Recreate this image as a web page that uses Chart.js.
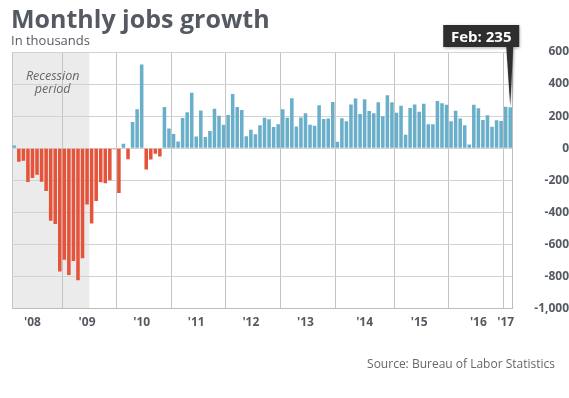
<!DOCTYPE html>
<html>
<head>
<meta charset="utf-8">
<script src="https://cdn.jsdelivr.net/npm/chart.js@4.4.0/dist/chart.umd.min.js"></script>
<style>
  html, body { margin: 0; padding: 0; background: #fff; }
  #contenedor { width: 569px; height: 398px; position: relative; }
</style>
</head>
<body>
<div id="contenedor"><canvas id="miGrafica"></canvas></div>
<script>
// Variación mensual del empleo, en miles
const datos2008 = [17, -84, -78, -210, -185, -165, -209, -266, -452, -473, -769, -695];
const datos2009 = [-791, -703, -823, -686, -351, -470, -329, -212, -219, -200, -7, -279];
const datos2010 = [28, -69, 163, 243, 522, -133, -70, -34, -52, 257, 123, 88];
const datos2011 = [42, 188, 225, 346, 73, 235, 70, 107, 246, 202, 146, 207];
const datos2012 = [338, 257, 239, 75, 115, 87, 143, 190, 181, 132, 149, 243];
const datos2013 = [190, 311, 135, 192, 218, 146, 140, 268, 182, 186, 289, 41];
const datos2014 = [187, 168, 272, 310, 213, 306, 232, 218, 286, 200, 331, 287];
const datos2015 = [221, 265, 84, 251, 273, 228, 277, 150, 149, 295, 280, 271];
const datos2016 = [168, 233, 186, 144, 24, 271, 250, 176, 206, 134, 175, 170];
const datos2017 = [258, 255];

const anios = [2008, 2009, 2010, 2011, 2012, 2013, 2014, 2015, 2016, 2017];
const nombresMes = ['Jan', 'Feb', 'Mar', 'Apr', 'May', 'Jun', 'Jul', 'Aug', 'Sep', 'Oct', 'Nov', 'Dec'];

// Etiquetas del eje X: en qué mes va cada año y dónde caen las líneas verticales
const etiquetasAnio = ["'08", "'09", "'10", "'11", "'12", "'13", "'14", "'15", "'16", "'17"];
const mesEtiquetaAnio = ['May 2008', 'May 2009', 'May 2010', 'May 2011', 'May 2012', 'May 2013', 'Jun 2014', 'Jun 2015', 'Jul 2016', 'Jan 2017'];
const mesLineaAnio = ['Dec 2008', 'Dec 2009', 'Dec 2010', 'Dec 2011', 'Dec 2012', 'Dec 2013', 'Jan 2015', 'Jan 2016', 'Jan 2017'];
const finRecesion = 'Jun 2009';
const textoDestacado = 'Feb: 235';

const valores = [].concat(datos2008, datos2009, datos2010, datos2011, datos2012,
    datos2013, datos2014, datos2015, datos2016, datos2017);
const etiquetas = [];
anios.forEach(anio => {
    nombresMes.forEach(mes => {
        if (etiquetas.length < valores.length) etiquetas.push(mes + ' ' + anio);
    });
});

const colorTexto = '#555a62';
const fuente = "'Open Sans', sans-serif";

const pluginExtras = {
    id: 'extras',
    beforeDraw(chart) {
        // franja gris del periodo de recesión
        const { ctx, chartArea, scales } = chart;
        const i = etiquetas.indexOf(finRecesion);
        const xFin = (scales.x.getPixelForValue(i - 1) + scales.x.getPixelForValue(i)) / 2;
        ctx.save();
        ctx.fillStyle = '#ebebeb';
        ctx.fillRect(chartArea.left, chartArea.top, xFin - chartArea.left, chartArea.bottom - chartArea.top);
        ctx.restore();
    },
    afterDraw(chart) {
        const { ctx, chartArea, scales } = chart;
        ctx.save();

        // título y subtítulo
        ctx.fillStyle = colorTexto;
        ctx.textAlign = 'left';
        ctx.textBaseline = 'alphabetic';
        ctx.font = "bold 25px " + fuente;
        ctx.fillText('Monthly jobs growth', 11, 28);
        ctx.font = "13px " + fuente;
        ctx.fillText('In thousands', 11, 45);

        // texto de la recesión
        const i = etiquetas.indexOf(finRecesion);
        const xFin = (scales.x.getPixelForValue(i - 1) + scales.x.getPixelForValue(i)) / 2;
        const xMedio = (chartArea.left + xFin) / 2 + 2;
        ctx.fillStyle = '#666';
        ctx.textAlign = 'center';
        ctx.textBaseline = 'middle';
        ctx.font = "italic 12.5px " + fuente;
        ctx.fillText('Recession', xMedio, 76);
        ctx.fillText('period', xMedio, 89);

        // recuadro del último dato
        const barras = chart.getDatasetMeta(0).data;
        const ultima = barras[barras.length - 1];
        const derecha = ultima.x + 9;
        const izquierda = derecha - 76;
        const arriba = 25;
        const abajo = 47;
        ctx.shadowColor = 'rgba(0,0,0,0.35)';
        ctx.shadowBlur = 3;
        ctx.shadowOffsetX = 1;
        ctx.shadowOffsetY = 1;
        ctx.fillStyle = '#2e2e2e';
        ctx.fillRect(izquierda, arriba, derecha - izquierda, abajo - arriba);
        ctx.beginPath();
        ctx.moveTo(ultima.x - 4, abajo - 1);
        ctx.lineTo(ultima.x + 3, abajo - 1);
        ctx.lineTo(ultima.x, ultima.y - 1);
        ctx.closePath();
        ctx.fill();
        ctx.shadowColor = 'transparent';
        ctx.fillStyle = '#fff';
        ctx.font = "bold 15px " + fuente;
        ctx.textAlign = 'center';
        ctx.textBaseline = 'alphabetic';
        ctx.fillText(textoDestacado, (izquierda + derecha) / 2, 42);

        // fuente
        ctx.fillStyle = '#666';
        ctx.font = "12px " + fuente;
        ctx.textAlign = 'right';
        ctx.fillText('Source: Bureau of Labor Statistics', 555, 368);
        ctx.restore();
    }
};

const ctx = document.getElementById('miGrafica').getContext('2d');
new Chart(ctx, {
    type: 'bar',
    data: {
        labels: etiquetas,
        datasets: [{
            data: valores,
            backgroundColor: valores.map(v => v < 0 ? '#e5533b' : '#6aafca'),
            barPercentage: 0.78,
            categoryPercentage: 1
        }]
    },
    options: {
        responsive: true,
        maintainAspectRatio: false,
        animation: false,
        layout: { padding: { top: 52, left: 12, right: 0, bottom: 61 } },
        plugins: {
            legend: { display: false },
            tooltip: { enabled: false }
        },
        scales: {
            x: {
                offset: true,
                grid: {
                    offset: true,
                    drawTicks: false,
                    color: c => {
                        if (c.index === undefined || c.index === 0) return '#c4c4c4';
                        return mesLineaAnio.includes(etiquetas[c.index]) ? '#c4c4c4' : 'rgba(0,0,0,0)';
                    }
                },
                border: { color: '#bdbdbd' },
                ticks: {
                    autoSkip: false,
                    maxRotation: 0,
                    minRotation: 0,
                    padding: 7,
                    color: colorTexto,
                    font: { family: fuente, size: 12, weight: 'bold' },
                    callback: (valor, indice) => {
                        const pos = mesEtiquetaAnio.indexOf(etiquetas[indice]);
                        return pos >= 0 ? etiquetasAnio[pos] : '';
                    }
                }
            },
            y: {
                position: 'right',
                min: -1000,
                max: 600,
                afterFit: escala => { escala.width = 56.5; },
                grid: { color: '#d2d2d2', drawTicks: false },
                border: { color: '#bdbdbd' },
                ticks: {
                    stepSize: 200,
                    crossAlign: 'far',
                    padding: 5,
                    color: colorTexto,
                    font: { family: fuente, size: 12, weight: 'bold' }
                }
            }
        }
    },
    plugins: [pluginExtras]
});
</script>
</body>
</html>
